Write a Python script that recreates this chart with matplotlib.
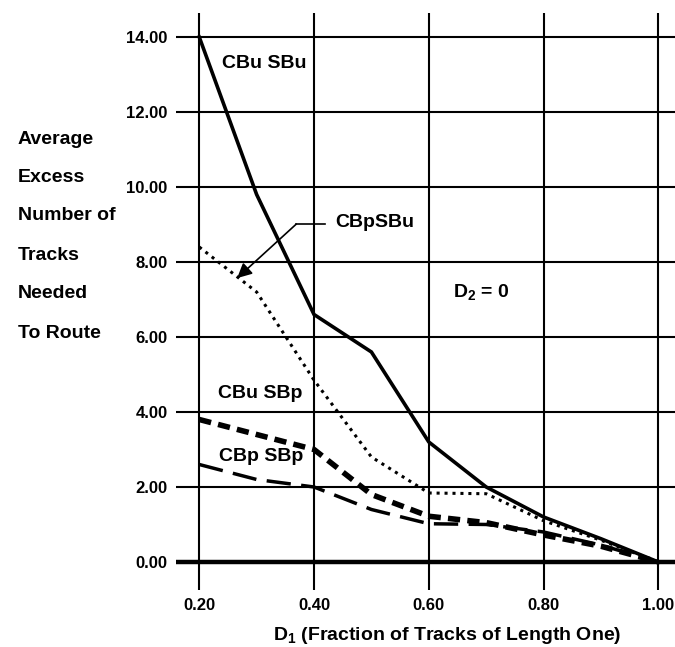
import matplotlib
matplotlib.use("Agg")
import matplotlib.pyplot as plt

plt.rcParams['font.family'] = ['Liberation Sans', 'DejaVu Sans']
plt.rcParams['font.weight'] = 'bold'
plt.rcParams['mathtext.fontset'] = 'custom'
plt.rcParams['mathtext.rm'] = 'Liberation Sans:bold'
plt.rcParams['mathtext.bf'] = 'Liberation Sans:bold'
plt.rcParams['mathtext.it'] = 'Liberation Sans:bold'

# Data
d1 = [0.2, 0.3, 0.4, 0.5, 0.6, 0.7, 0.8, 0.9, 1.0]
cbu_sbu = [14.0, 9.8, 6.6, 5.6, 3.2, 2.0, 1.2, 0.62, 0.0]
cbp_sbu = [8.4, 7.2, 4.85, 2.8, 1.84, 1.82, 1.1, 0.58, 0.0]
cbu_sbp = [3.8, 3.4, 3.0, 1.8, 1.22, 1.05, 0.72, 0.42, 0.0]
cbp_sbp = [2.6, 2.2, 2.0, 1.4, 1.02, 1.0, 0.8, 0.45, 0.0]
x_ticks = [0.2, 0.4, 0.6, 0.8, 1.0]
x_tick_labels = ["0.20", "0.40", "0.60", "0.80", "1.00"]
y_ticks = [0, 2, 4, 6, 8, 10, 12, 14]
y_tick_labels = ["0.00", "2.00", "4.00", "6.00", "8.00", "10.00", "12.00", "14.00"]
ylabel_lines = ["Average", "Excess", "Number of", "Tracks", "Needed", "To Route"]

W, H = 675, 647
fig = plt.figure(figsize=(W / 100, H / 100), dpi=100)
ax = fig.add_axes([176 / W, 1 - 590 / H, 1 - 176 / W, (590 - 13) / H])
ax.set_xlim(0.1595, 1.029)
ax.set_ylim(-0.747, 14.64)

for s in ax.spines.values():
    s.set_visible(False)
ax.set_xticks(x_ticks)
ax.set_xticklabels(x_tick_labels)
ax.set_yticks(y_ticks)
ax.set_yticklabels(y_tick_labels)
ax.tick_params(length=0, labelsize=12, pad=6)
for lab in ax.get_xticklabels() + ax.get_yticklabels():
    lab.set_fontweight('bold')
ax.grid(True, color='black', lw=1.5)
ax.axhline(0, color='black', lw=3.2, zorder=3)

ax.plot(d1, cbu_sbu, color='black', lw=2.6, solid_joinstyle='miter', zorder=4)
ax.plot(d1, cbp_sbu, color='black', lw=2.2, linestyle=(0, (1, 1.6)), zorder=4)
ax.plot(d1, cbu_sbp, color='black', lw=4.0, linestyle=(0, (2.2, 1.3)), zorder=4)
ax.plot(d1, cbp_sbp, color='black', lw=2.5, linestyle=(0, (7, 3)), zorder=4)

txt = dict(fontsize=14, fontweight='bold', color='black')
ax.text(0.24, 13.3, "CBu SBu", ha='left', va='center', **txt)
ax.text(0.233, 4.48, "CBu SBp", ha='left', va='center', **txt)
ax.text(0.235, 2.8, "CBp SBp", ha='left', va='center', **txt)
ax.text(0.643, 7.2, r"D$_\mathbf{2}$ = 0", ha='left', va='center', **txt)
ax.text(0.437, 9.05, "CBpSBu", ha='left', va='center', **txt)

# annotation leader with arrow
ax.plot([0.419, 0.369], [9.01, 9.01], color='black', lw=1.2, zorder=5)
ax.annotate("", xy=(0.266, 7.57), xytext=(0.369, 9.01),
            arrowprops=dict(arrowstyle='-|>', color='black', lw=1.2,
                            mutation_scale=22, shrinkA=0, shrinkB=0), zorder=5)

fig.text(447 / W, 1 - 635 / H, r"D$_\mathbf{1}$ (Fraction of Tracks of Length One)",
         ha='center', va='center', **txt)

ys = [139, 178, 216, 255, 293, 333]
for line, yy in zip(ylabel_lines, ys):
    fig.text(18 / W, 1 - yy / H, line, ha='left', va='center', **txt)

fig.savefig("out.png", dpi=100)
